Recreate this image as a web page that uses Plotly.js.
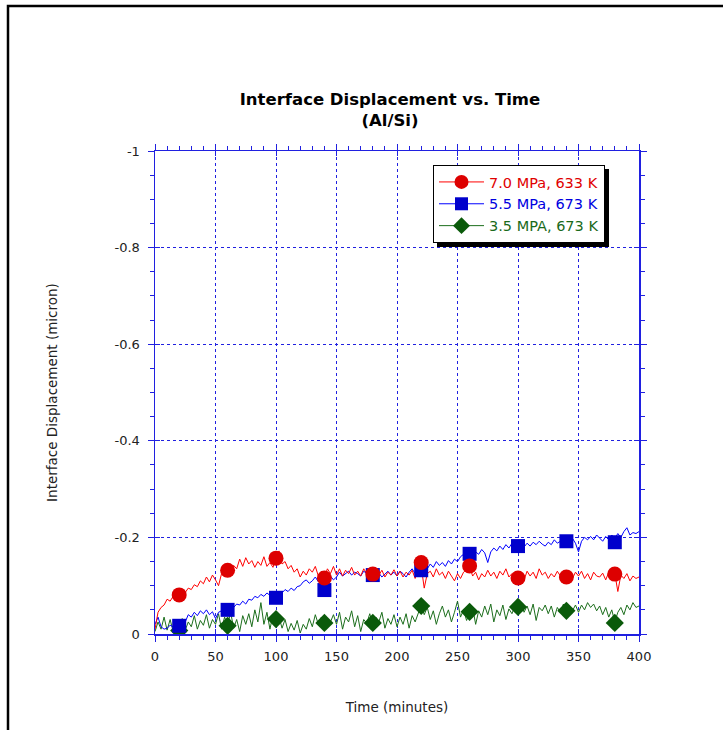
<!DOCTYPE html>
<html>
<head>
<meta charset="utf-8">
<script src="https://cdn.plot.ly/plotly-3.0.1.min.js"></script>
<style>html,body{margin:0;padding:0;background:#fff;}#chart{width:723px;height:730px;}</style>
</head>
<body>
<div id="chart"></div>
<script>
// ---- data ----
var time = [0,2.5,5,7.5,10,12.5,15,17.5,20,22.5,25,27.5,30,32.5,35,37.5,40,42.5,45,47.5,
50,52.5,55,57.5,60,62.5,65,67.5,70,72.5,75,77.5,80,82.5,85,87.5,90,92.5,95,97.5,
100,102.5,105,107.5,110,112.5,115,117.5,120,122.5,125,127.5,130,132.5,135,137.5,140,142.5,145,147.5,
150,152.5,155,157.5,160,162.5,165,167.5,170,172.5,175,177.5,180,182.5,185,187.5,190,192.5,195,197.5,
200,202.5,205,207.5,210,212.5,215,217.5,220,222.5,225,227.5,230,232.5,235,237.5,240,242.5,245,247.5,
250,252.5,255,257.5,260,262.5,265,267.5,270,272.5,275,277.5,280,282.5,285,287.5,290,292.5,295,297.5,
300,302.5,305,307.5,310,312.5,315,317.5,320,322.5,325,327.5,330,332.5,335,337.5,340,342.5,345,347.5,
350,352.5,355,357.5,360,362.5,365,367.5,370,372.5,375,377.5,380,382.5,385,387.5,390,392.5,395,397.5,400];

var red70 = [-0.010,-0.045,-0.055,-0.060,-0.072,-0.068,-0.078,-0.083,-0.080,-0.088,-0.086,-0.095,-0.092,-0.102,-0.098,-0.110,-0.104,-0.118,-0.108,-0.122,
-0.112,-0.100,-0.125,-0.118,-0.130,-0.125,-0.142,-0.135,-0.155,-0.140,-0.158,-0.145,-0.152,-0.138,-0.150,-0.142,-0.160,-0.140,-0.148,-0.138,
-0.158,-0.172,-0.145,-0.150,-0.135,-0.142,-0.128,-0.135,-0.118,-0.130,-0.122,-0.135,-0.128,-0.140,-0.120,-0.130,-0.118,-0.135,-0.125,-0.140,
-0.122,-0.135,-0.120,-0.132,-0.125,-0.138,-0.122,-0.130,-0.120,-0.135,-0.125,-0.128,-0.120,-0.130,-0.122,-0.132,-0.118,-0.128,-0.122,-0.133,
-0.120,-0.130,-0.118,-0.128,-0.122,-0.132,-0.115,-0.135,-0.140,-0.095,-0.125,-0.130,-0.118,-0.135,-0.122,-0.128,-0.115,-0.130,-0.120,-0.110,
-0.125,-0.115,-0.128,-0.135,-0.140,-0.120,-0.128,-0.112,-0.125,-0.118,-0.132,-0.120,-0.128,-0.115,-0.130,-0.122,-0.135,-0.118,-0.125,-0.112,
-0.118,-0.125,-0.112,-0.130,-0.120,-0.128,-0.115,-0.135,-0.122,-0.128,-0.115,-0.125,-0.118,-0.130,-0.120,-0.112,-0.118,-0.125,-0.115,-0.128,
-0.120,-0.130,-0.115,-0.125,-0.112,-0.128,-0.120,-0.118,-0.126,-0.112,-0.128,-0.120,-0.125,-0.088,-0.122,-0.115,-0.125,-0.110,-0.120,-0.115,-0.118];

var blue55 = [-0.020,-0.035,-0.015,-0.010,-0.012,-0.018,-0.015,-0.022,-0.020,-0.028,-0.025,-0.040,-0.035,-0.045,-0.038,-0.048,-0.042,-0.050,-0.040,-0.046,
-0.032,-0.045,-0.048,-0.052,-0.050,-0.058,-0.055,-0.062,-0.060,-0.068,-0.062,-0.072,-0.070,-0.078,-0.075,-0.082,-0.078,-0.085,-0.080,-0.088,
-0.082,-0.088,-0.085,-0.092,-0.088,-0.095,-0.090,-0.098,-0.100,-0.108,-0.112,-0.105,-0.110,-0.118,-0.108,-0.112,-0.105,-0.115,-0.120,-0.112,
-0.118,-0.128,-0.120,-0.125,-0.130,-0.122,-0.128,-0.125,-0.120,-0.130,-0.125,-0.122,-0.128,-0.120,-0.126,-0.118,-0.125,-0.130,-0.122,-0.128,
-0.120,-0.130,-0.125,-0.118,-0.128,-0.135,-0.125,-0.132,-0.130,-0.140,-0.135,-0.145,-0.138,-0.150,-0.142,-0.148,-0.140,-0.152,-0.145,-0.155,
-0.150,-0.160,-0.165,-0.158,-0.168,-0.162,-0.170,-0.165,-0.175,-0.168,-0.148,-0.170,-0.178,-0.172,-0.182,-0.175,-0.185,-0.178,-0.188,-0.180,
-0.178,-0.185,-0.180,-0.188,-0.182,-0.190,-0.185,-0.192,-0.186,-0.182,-0.190,-0.185,-0.195,-0.188,-0.192,-0.185,-0.195,-0.190,-0.198,-0.188,
-0.170,-0.192,-0.200,-0.195,-0.202,-0.195,-0.205,-0.198,-0.192,-0.202,-0.195,-0.205,-0.198,-0.208,-0.200,-0.212,-0.220,-0.205,-0.210,-0.208,-0.212];

var green35 = [-0.005,-0.025,-0.010,-0.035,-0.008,-0.030,-0.005,-0.020,-0.012,-0.032,-0.008,-0.025,-0.015,-0.038,-0.010,-0.028,-0.018,-0.040,-0.012,-0.030,
-0.020,-0.042,-0.010,-0.035,-0.018,-0.045,-0.012,-0.030,-0.005,-0.038,-0.020,-0.042,-0.015,-0.050,-0.025,-0.065,-0.020,-0.045,-0.010,-0.040,
-0.025,-0.035,-0.012,-0.030,-0.005,-0.022,-0.008,-0.028,-0.002,-0.020,-0.010,-0.032,-0.015,-0.040,-0.020,-0.035,-0.012,-0.030,-0.025,-0.040,
-0.020,-0.045,-0.010,-0.035,-0.025,-0.048,-0.015,-0.038,-0.005,-0.030,-0.022,-0.042,-0.018,-0.035,-0.025,-0.045,-0.012,-0.032,-0.020,-0.040,
-0.015,-0.035,-0.020,-0.042,-0.012,-0.038,-0.025,-0.045,-0.060,-0.040,-0.055,-0.030,-0.048,-0.020,-0.042,-0.058,-0.035,-0.050,-0.025,-0.045,
-0.068,-0.035,-0.050,-0.028,-0.045,-0.055,-0.020,-0.048,-0.035,-0.058,-0.040,-0.062,-0.025,-0.050,-0.038,-0.060,-0.030,-0.052,-0.042,-0.058,
-0.050,-0.065,-0.045,-0.058,-0.040,-0.062,-0.028,-0.055,-0.048,-0.060,-0.042,-0.058,-0.035,-0.055,-0.045,-0.062,-0.040,-0.052,-0.048,-0.060,
-0.045,-0.060,-0.050,-0.065,-0.055,-0.062,-0.048,-0.058,-0.040,-0.055,-0.035,-0.050,-0.025,-0.045,-0.055,-0.040,-0.060,-0.050,-0.065,-0.055,-0.058];

var markTime = [20,60,100,140,180,220,260,300,340,380];
var redMarks   = [-0.081,-0.132,-0.157,-0.116,-0.124,-0.148,-0.141,-0.116,-0.118,-0.124];
var blueMarks  = [-0.017,-0.050,-0.075,-0.091,-0.122,-0.132,-0.166,-0.182,-0.192,-0.190];
var greenMarks = [-0.007,-0.017,-0.031,-0.023,-0.023,-0.058,-0.046,-0.056,-0.048,-0.023];

var seriesNames = ['7.0 MPa, 633 K','5.5 MPa, 673 K','3.5 MPA, 673 K'];
var yTickVals = [-1,-0.8,-0.6,-0.4,-0.2,0];
var yTickText = ['-1','-0.8','-0.6','-0.4','-0.2','0'];
var xTickVals = [0,50,100,150,200,250,300,350,400];

// ---- styles ----
var C = {
  redLine:'#ff0000', redMark:'#dd0000', redText:'#e00000',
  blueLine:'#0000ff', blueMark:'#0000cc', blueText:'#0000e0',
  greenLine:'#1c6e1c', greenMark:'#0a5a0a', greenText:'#1a6a1a'
};
var FONT = 'DejaVu Sans, Verdana, sans-serif';
var axisBlue = '#2020e0';

function lineTrace(y, col){
  return {x:time, y:y, mode:'lines', line:{color:col, width:1}, showlegend:false, hoverinfo:'skip'};
}
function markTrace(y, col, sym, sz){
  return {x:markTime, y:y, mode:'markers', marker:{color:col, symbol:sym, size:sz}, showlegend:false};
}
function legTrace(name, lcol, mcol, sym, sz, tcol){
  return {x:[null], y:[null], mode:'lines+markers', name:'<span style="color:'+tcol+'">'+name+'</span>',
    line:{color:lcol, width:1}, marker:{color:mcol, symbol:sym, size:sz}};
}

var data = [
  lineTrace(green35, C.greenLine),
  lineTrace(blue55, C.blueLine),
  lineTrace(red70, C.redLine),
  markTrace(greenMarks, C.greenMark, 'diamond', 14),
  markTrace(blueMarks, C.blueMark, 'square', 14),
  markTrace(redMarks, C.redMark, 'circle', 15),
  legTrace(seriesNames[0], C.redLine, C.redMark, 'circle', 14, C.redText),
  legTrace(seriesNames[1], C.blueLine, C.blueMark, 'square', 13, C.blueText),
  legTrace(seriesNames[2], C.greenLine, C.greenMark, 'diamond', 13, C.greenText),
  {x:[null], y:[null], xaxis:'x2', yaxis:'y2', showlegend:false, mode:'lines'}
];

// plot area in px: x 155..639, y 151..634
var L=155, R=639, T=151, B=634;
function px(x){return (x-L)/(R-L);}
function py(y){return (B-y)/(B-T);}
var LEG_L = 433, LEG_T = 165;

var layout = {
  width:723, height:730,
  margin:{l:L, r:723-R, t:T, b:730-B},
  paper_bgcolor:'#ffffff', plot_bgcolor:'#ffffff',
  font:{family:FONT, size:13, color:'#222222'},
  title:{text:'<b>Interface Displacement vs. Time</b><br><b>(Al/Si)</b>',
    font:{family:FONT, size:16.5, color:'#000000'},
    x:390/723, xanchor:'center', xref:'container', y:1-105/730, yanchor:'top', yref:'container'},
  xaxis:{range:[0,400], tickvals:xTickVals, ticks:'outside', ticklen:6, tickwidth:1, tickcolor:axisBlue,
    minor:{dtick:10, ticks:'outside', ticklen:4, tickcolor:axisBlue, tickwidth:1, showgrid:false},
    showline:true, linecolor:axisBlue, linewidth:1.5, mirror:'ticks', ticklabelstandoff:4,
    showgrid:true, gridcolor:axisBlue, griddash:'dot', gridwidth:1, zeroline:false,
    tickfont:{family:FONT, size:13, color:'#222'},
    title:{text:'Time (minutes)', font:{family:FONT, size:13.5, color:'#222'}, standoff:39}},
  yaxis:{range:[0,-1], tickvals:yTickVals, ticktext:yTickText, ticks:'outside', ticklen:6, tickwidth:1, tickcolor:axisBlue,
    minor:{dtick:0.05, ticks:'outside', ticklen:4, tickcolor:axisBlue, tickwidth:1, showgrid:false},
    showline:true, linecolor:axisBlue, linewidth:1.5, mirror:'ticks', ticklabelstandoff:5,
    showgrid:true, gridcolor:axisBlue, griddash:'dot', gridwidth:1, zeroline:false,
    tickfont:{family:FONT, size:13, color:'#222'},
    title:{text:'Interface Displacement (micron)', font:{family:FONT, size:13.5, color:'#222'}, standoff:54}},
  xaxis2:{overlaying:'x', anchor:'y2', range:[0,400], tickvals:xTickVals, ticks:'inside', ticklen:5, tickcolor:axisBlue,
    showticklabels:false, showgrid:false, showline:false, zeroline:false, mirror:'ticks'},
  yaxis2:{overlaying:'y', anchor:'x2', range:[0,-1], tickvals:yTickVals, ticks:'inside', ticklen:5, tickcolor:axisBlue,
    showticklabels:false, showgrid:false, showline:false, zeroline:false, mirror:'ticks'},
  legend:{x:px(LEG_L), y:py(LEG_T), xanchor:'left', yanchor:'top', bgcolor:'#ffffff', bordercolor:'#000000', borderwidth:1,
    font:{family:FONT, size:14.5}, tracegroupgap:0, itemwidth:45},
  shapes:[
    {type:'rect', xref:'paper', yref:'paper', x0:px(LEG_L+4), x1:px(LEG_L+4+172), y0:py(LEG_T+4+75), y1:py(LEG_T+4),
      fillcolor:'#000000', line:{width:0}, layer:'above'},
    {type:'path', xref:'paper', yref:'paper', path:'M '+px(8)+' '+py(731)+' L '+px(8)+' '+py(6)+' L '+px(724)+' '+py(6),
      line:{color:'#000000', width:2.5}, layer:'above'}
  ],
  showlegend:true
};

Plotly.newPlot('chart', data, layout, {displayModeBar:false, staticPlot:true}).then(function(gd){
  // fit the legend drop shadow to the rendered legend size (offset 4px right/down)
  var lg = gd._fullLayout && gd._fullLayout.legend;
  if(!lg || !(lg._width > 0) || !(lg._height > 0)) return;
  return Plotly.relayout(gd, {
    'shapes[0].x0': px(LEG_L + 4), 'shapes[0].x1': px(LEG_L + 4 + lg._width),
    'shapes[0].y0': py(LEG_T + 4 + lg._height), 'shapes[0].y1': py(LEG_T + 4)
  });
});
</script>
</body>
</html>
